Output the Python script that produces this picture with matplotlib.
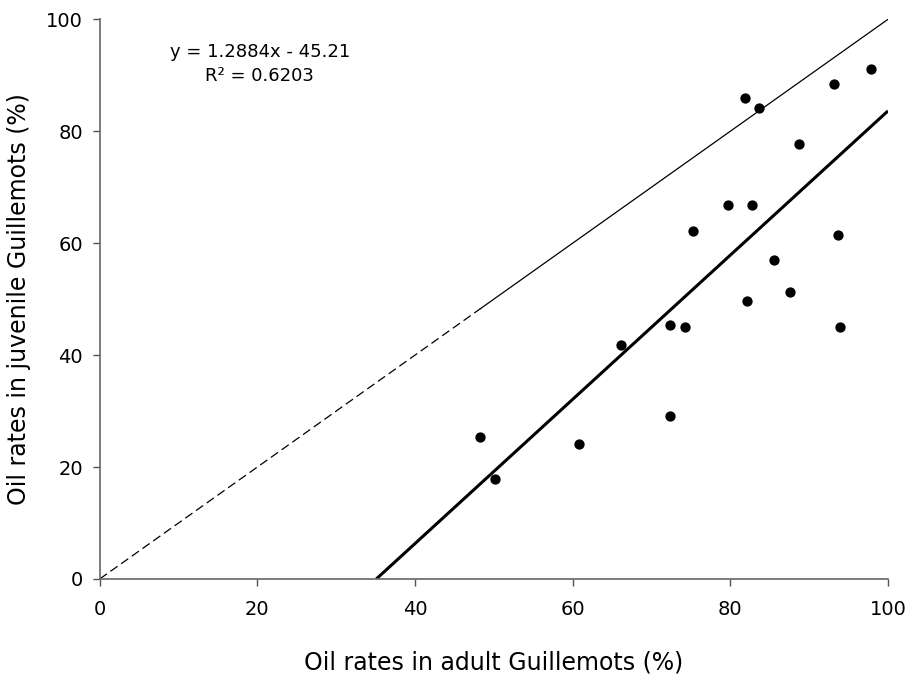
# --- Oil rates: adult vs juvenile Guillemots ---
import numpy as np
import matplotlib
matplotlib.use("Agg")
import matplotlib.pyplot as plt

plt.rcParams['font.family'] = ['DejaVu Sans']

# --- data ---
adult = [48.3, 50.1, 60.8, 66.1, 72.3, 72.4, 74.2, 75.3, 79.7, 82.1,
         82.7, 81.9, 83.6, 85.6, 87.6, 88.7, 93.1, 93.7, 93.9, 97.9]
juvenile = [25.4, 17.9, 24.1, 41.8, 29.2, 45.4, 45.1, 62.1, 66.8, 49.7,
            66.8, 85.9, 84.2, 57.0, 51.3, 77.7, 88.4, 61.5, 45.0, 91.2]

slope = 1.2884
intercept = -45.21
r_squared = 0.6203

ticks = [0, 20, 40, 60, 80, 100]

# --- plot ---
fig = plt.figure(figsize=(9.13, 6.77), dpi=100)
ax = fig.add_axes([0.1092, 0.1448, 0.8634, 0.8267])

# 1:1 line, dashed where it is extrapolated below the data
x_min = min(adult)
ax.plot([0, x_min], [0, x_min], color='black', lw=0.9, dashes=(7, 3.5))
ax.plot([x_min, 100], [x_min, 100], color='black', lw=0.9)

# regression line
x0 = -intercept / slope
ax.plot([x0, 100], [slope * x0 + intercept, slope * 100 + intercept],
        color='black', lw=2.2, solid_capstyle='butt')

ax.scatter(adult, juvenile, s=55, color='black', zorder=3, linewidths=0)

ax.text(20.3, 92.0, f'y = {slope}x - {abs(intercept)}\nR² = {r_squared}',
        ha='center', va='center', multialignment='center', fontsize=13,
        linespacing=1.45)

ax.set_xlim(0, 100)
ax.set_ylim(0, 100)
ax.set_xticks(ticks)
ax.set_yticks(ticks)
ax.tick_params(direction='out', length=5, width=1, color='#555555',
               labelsize=14)
ax.tick_params(axis='x', pad=10)
ax.tick_params(axis='y', pad=7)

for side in ['top', 'right']:
    ax.spines[side].set_visible(False)
for side in ['left', 'bottom']:
    ax.spines[side].set_color('#666666')
    ax.spines[side].set_linewidth(1.2)

ax.set_xlabel('Oil rates in adult Guillemots (%)', fontsize=17, labelpad=23)
ax.set_ylabel('Oil rates in juvenile Guillemots (%)', fontsize=17, labelpad=11)

fig.savefig('out.png', dpi=100)
